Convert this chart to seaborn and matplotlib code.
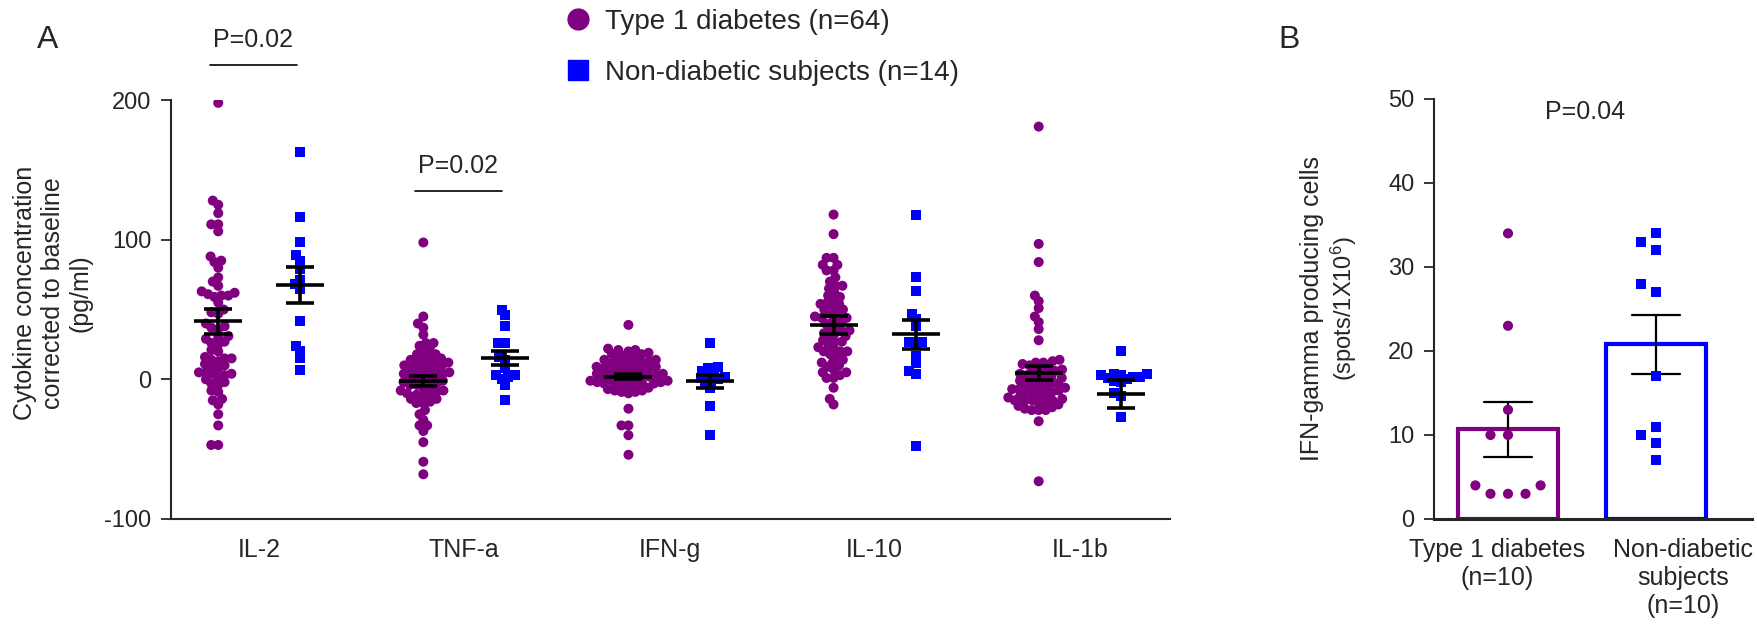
import numpy as np
import pandas as pd
import matplotlib
matplotlib.use("Agg")
import matplotlib.pyplot as plt
import matplotlib.transforms as mtransforms
import seaborn as sns
from matplotlib.lines import Line2D

sns.set_style("ticks")
plt.rcParams['font.family'] = ['Liberation Sans', 'DejaVu Sans']
plt.rcParams['axes.unicode_minus'] = False
plt.rcParams['mathtext.default'] = 'regular'

# ---- panel A data (pg/ml, corrected to baseline) ----
cytokines = ["IL-2", "TNF-a", "IFN-g", "IL-10", "IL-1b"]
groups = ["Type 1 diabetes", "Non-diabetic subjects"]
colors = {"Type 1 diabetes": "#800080", "Non-diabetic subjects": "#0000FF"}

il2_t1d = [198, 128, 125, 119, 111, 111, 106, 88, 85, 84, 80, 73, 70, 67,
           62, 63, 61, 60, 59, 60, 55, 50, 48, 47, 40, 38, 37, 36, 30, 31,
           29, 27, 26, 25, 21, 20, 15, 14, 15, 16, 13, 10, 11, 9, 8, 5, 4, 3,
           4, 5, 1, 0, -3, -2, -4, -9, -8, -15, -14, -18, -25, -33, -47, -47]
tnf_t1d = [98, 45, 40, 37, 32, 26, 26, 24, 18, 18, 15, 15, 12, 12, 12, 8, 8,
           4, 4, 4, -1, -1, -4, -4, -8, -8, -10, -10, -14, -14, -17, -17, -22,
           -25, -29, -33, -33, -37, -45, -59, -68,
           22, 20, 17, 14, 13, 10, 10, 9, 7, 6, 5, 3, 2, 1, 0, -2, -3, -5, -6,
           -9, -11, -12, -16]
ifng_t1d = [39, 21, 21, 18, 14, 14, 12, 8, 8, 2, -3, -3, -9, -21, -33, -33,
            -40, -54,
            22, 20, 19, 18, 17, 16, 15, 14, 13, 12, 11, 11, 10, 9, 9, 8, 7, 7,
            6, 5, 5, 4, 4, 3, 3, 2, 2, 1, 1, 0, 0, -1, -1, -2, -2, -3, -3, -4,
            -4, -5, -6, -7, -8, -8, -9, -10]
il10_t1d = [118, 104, 87, 87, 82, 82, 78, 78, 73, 67, 67, 59, 54, 54, 50, 44,
            44, 35, 33, 27, 27, 22, 20, 20, 12, 12, 9, 5, 5, 1, 1, -6, -14, -18,
            70, 65, 62, 60, 57, 55, 52, 50, 48, 47, 45, 43, 41, 40, 38, 36, 35,
            33, 31, 30, 28, 25, 23, 20, 18, 16, 14, 10, 7, 3]
il1b_t1d = [181, 97, 84, 60, 56, 51, 45, 41, 36, 28, 12, -7, -7, -15, -15, -15,
            -22, -30, -73,
            14, 13, 12, 11, 10, 9, 8, 7, 6, 6, 5, 4, 3, 3, 2, 1, 0, 0, -1, -2,
            -3, -3, -4, -5, -6, -6, -7, -8, -9, -9, -10, -11, -12, -12, -13,
            -14, -15, -16, -17, -18, -19, -20, -21, -22, -22]

il2_nd = [163, 116, 98, 89, 85, 79, 71, 68, 65, 42, 24, 20, 15, 7]
tnf_nd = [50, 46, 38, 26, 26, 16, 14, 8, 3, 3, 2, 0, -4, -15]
ifng_nd = [26, 9, 8, 6, 5, 3, 2, 1, 0, -1, -3, -6, -19, -40]
il10_nd = [118, 73, 63, 47, 43, 38, 27, 27, 26, 17, 12, 6, 4, -48]
il1b_nd = [20, 4, 4, 3, 3, 2, 2, 1, 0, -1, -2, -10, -12, -27]

# mean and SEM as drawn in the figure
t1d_mean = [41.6, -1.2, 1.7, 39.2, 4.6]
t1d_sem = [9.0, 3.6, 1.8, 6.5, 5.0]
nd_mean = [67.4, 15.5, -1.4, 32.3, -10.3]
nd_sem = [12.7, 5.0, 4.7, 10.4, 10.0]

# ---- panel B data (spots / 1x10^6 cells) ----
elispot_t1d = [34, 23, 13, 10, 10, 4, 3, 3, 3, 4]
elispot_nd = [34, 33, 32, 28, 27, 17, 11, 10, 9, 7]
b_labels = ["Type 1 diabetes\n(n=10)", "Non-diabetic\nsubjects\n(n=10)"]

rows = []
for cyt, t, n in zip(cytokines,
                     [il2_t1d, tnf_t1d, ifng_t1d, il10_t1d, il1b_t1d],
                     [il2_nd, tnf_nd, ifng_nd, il10_nd, il1b_nd]):
    rows += [(cyt, groups[0], v) for v in t]
    rows += [(cyt, groups[1], v) for v in n]
dfA = pd.DataFrame(rows, columns=["cytokine", "group", "value"])

dfB = pd.DataFrame({"group": [b_labels[0]] * len(elispot_t1d) + [b_labels[1]] * len(elispot_nd),
                    "value": elispot_t1d + elispot_nd})
b_colors = {b_labels[0]: colors[groups[0]], b_labels[1]: colors[groups[1]]}

fig = plt.figure(figsize=(17.58, 6.30), dpi=100)
axA = fig.add_axes([0.0973, 0.1762, 0.5682, 0.665])
axB = fig.add_axes([0.8157, 0.1762, 0.181, 0.6667])
FS = 17
FT = 18

# ---- panel A ----
for g, mk in zip(groups, ["o", "s"]):
    sns.swarmplot(data=dfA[dfA.group == g], x="cytokine", y="value", hue="group",
                  order=cytokines, hue_order=groups, palette=colors, dodge=True,
                  marker=mk, size=4.8, linewidth=0, legend=False, warn_thresh=1,
                  ax=axA)
swarmA = list(axA.collections)

xs = np.arange(len(cytokines))
for off, m, s in [(-0.2, t1d_mean, t1d_sem), (0.2, nd_mean, nd_sem)]:
    axA.errorbar(xs + off, m, yerr=s, fmt="_", color="black", markersize=35,
                 mew=2.6, elinewidth=2.6, capsize=10, capthick=2.6, zorder=5)

axA.set_ylim(-100, 200)
axA.set_xlim(-0.43, 4.44)
axA.set_yticks([-100, 0, 100, 200])
axA.set_xlabel("")
axA.set_ylabel("Cytokine concentration\ncorrected to baseline\n(pg/ml)",
               fontsize=FT, va="center", linespacing=1.2)
axA.yaxis.set_label_coords(-0.118, 0.54)
axA.tick_params(axis="y", labelsize=FS, length=7, width=1.3, pad=7)
axA.tick_params(axis="x", labelsize=FT, length=0, pad=14)
sns.despine(ax=axA)
for sp in ["left", "bottom"]:
    axA.spines[sp].set_linewidth(1.5)

# significance marks
for cyt, y in [("IL-2", 225), ("TNF-a", 135)]:
    i = cytokines.index(cyt)
    axA.plot([i - 0.24, i + 0.185], [y, y], color="black", lw=1.2, clip_on=False)
    axA.text(i - 0.03, y + 18, "P=0.02", fontsize=FT, ha="center", va="center")

handles = [Line2D([], [], marker="o", ls="", color=colors[groups[0]], markersize=15),
           Line2D([], [], marker="s", ls="", color=colors[groups[1]], markersize=14)]
fig.legend(handles, ["Type 1 diabetes (n=64)", "Non-diabetic subjects (n=14)"],
           loc="upper left", bbox_to_anchor=(0.318, 0.995), frameon=False,
           fontsize=20, handlelength=1.0, handletextpad=0.45, labelspacing=0.9,
           borderpad=0.2, borderaxespad=0)

# ---- panel B ----
sns.barplot(data=dfB, x="group", y="value", hue="group", order=b_labels,
            palette=b_colors, fill=False, linewidth=3, width=0.67,
            errorbar="se", capsize=0.33,
            err_kws={"color": "black", "linewidth": 1.6}, legend=False, ax=axB)
n_before = len(axB.collections)
for lab, mk in zip(b_labels, ["o", "s"]):
    sns.swarmplot(data=dfB[dfB.group == lab], x="group", y="value", hue="group",
                  order=b_labels, hue_order=b_labels, palette=b_colors,
                  marker=mk, size=12, linewidth=0, legend=False, ax=axB)
swarmB = list(axB.collections[n_before:])

axB.set_ylim(0, 50)
axB.set_xlim(-0.5, 1.65)
axB.set_yticks(range(0, 51, 10))
axB.set_xlabel("")
axB.set_ylabel("")
axB.tick_params(axis="y", labelsize=FS, length=7, width=1.3, pad=7)
axB.tick_params(axis="x", labelsize=FT, length=0, pad=14)
for lbl, dx in zip(axB.get_xticklabels(), [-11, 27]):
    lbl.set_transform(lbl.get_transform() +
                      mtransforms.ScaledTranslation(dx / 100, 0, fig.dpi_scale_trans))
sns.despine(ax=axB)
axB.spines["left"].set_linewidth(1.5)
axB.spines["bottom"].set_linewidth(2.2)
axB.text(0.52, 48.5, "P=0.04", fontsize=FT, ha="center", va="center")
fig.text(1312 / 1758, 0.51, "IFN-gamma producing cells", rotation=90, fontsize=FT,
         ha="center", va="center")
fig.text(1344 / 1758, 0.51, "(spots/1X10$^{6}$)", rotation=90, fontsize=17,
         ha="center", va="center")

fig.text(0.027, 0.924, "A", fontsize=23, ha="center", va="baseline")
fig.text(0.733, 0.924, "B", fontsize=23, ha="center", va="baseline")

# lay the swarms out with the small spacing, then freeze them and enlarge the dots
fig.canvas.draw()
for coll, sz in [(c, 7.2) for c in swarmA] + [(c, 7.3) for c in swarmB]:
    coll.__dict__.pop("draw", None)
    coll.set_sizes([sz ** 2])

fig.savefig("out.png", dpi=100)
